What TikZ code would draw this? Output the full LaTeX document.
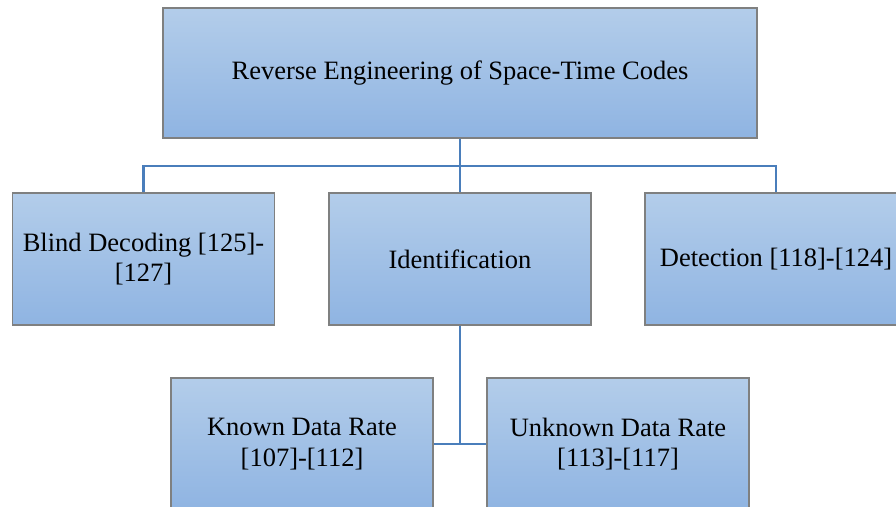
\documentclass[tikz,border=0pt]{standalone}
\usepackage{fontspec}
\setmainfont{Liberation Serif}
\usetikzlibrary{calc}
\definecolor{linkblue}{HTML}{4A7EBB}
\definecolor{boxtop}{HTML}{B3CDEA}
\definecolor{boxbot}{HTML}{8FB4E2}
\definecolor{boxline}{HTML}{7F8080}
\begin{document}
\begin{tikzpicture}[x=1pt,y=-1pt,
  box/.style={draw=boxline, line width=1.2pt, top color=boxtop, bottom color=boxbot,
    minimum width=262pt, minimum height=132pt, inner sep=0pt, align=center,
    font=\fontsize{26.5}{30.5}\selectfont},
  link/.style={draw=linkblue, line width=2.2pt}]
\useasboundingbox (0,0) rectangle (896,506);
\node[box, minimum width=594pt, minimum height=130pt] (top) at (460,73) {Reverse Engineering of Space-Time Codes};
\node[box] (bd) at (143.5,259) {Blind Decoding [125]-\\\relax [127]};
\node[box] (id) at (460,259) {Identification};
\node[box] (det) at (776,259) {Detection [118]-[124]};
\node[box] (kn) at (302,444) {Known Data Rate\\\relax [107]-[112]};
\node[box] (un) at (618,444) {Unknown Data Rate\\\relax [113]-[117]};
\coordinate (bus) at ($(top.south)+(0,27)$);
\draw[link] (top.south) -- (id.north);
\draw[link] (bus) -| (bd.north);
\draw[link] (bus) -| (det.north);
\draw[link] (id.south) |- (kn.east);
\draw[link] (id.south) |- (un.west);
\end{tikzpicture}
\end{document}
